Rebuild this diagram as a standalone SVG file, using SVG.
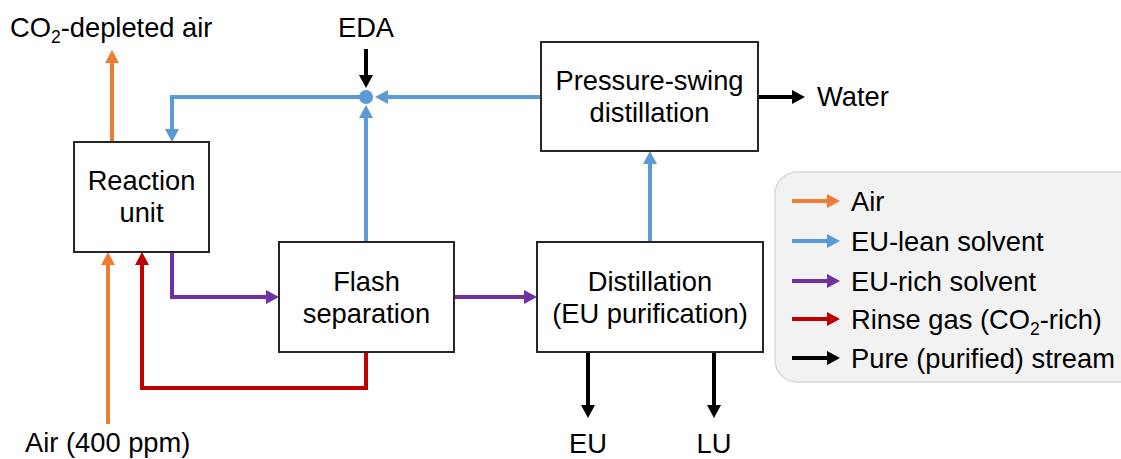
<svg xmlns="http://www.w3.org/2000/svg" width="1121" height="459" viewBox="0 0 1121 459">
<style>
.box{fill:#fff;stroke:#262626;stroke-width:2}
text{font-family:"Liberation Sans",Arial,sans-serif;font-size:27.3px;fill:#000}
.c{stroke-width:4;fill:none}
.or{stroke:#ED7D31}.bl{stroke:#5B9BD5}.pu{stroke:#7030A0}.rd{stroke:#C00000}.bk{stroke:#000}
</style>
<defs>
<marker id="aor" markerUnits="userSpaceOnUse" markerWidth="14" markerHeight="14" refX="7" refY="7" orient="auto"><path d="M0,0L13,7L0,14z" fill="#ED7D31"/></marker>
<marker id="abl" markerUnits="userSpaceOnUse" markerWidth="14" markerHeight="14" refX="7" refY="7" orient="auto"><path d="M0,0L13,7L0,14z" fill="#5B9BD5"/></marker>
<marker id="apu" markerUnits="userSpaceOnUse" markerWidth="14" markerHeight="14" refX="7" refY="7" orient="auto"><path d="M0,0L13,7L0,14z" fill="#7030A0"/></marker>
<marker id="ard" markerUnits="userSpaceOnUse" markerWidth="14" markerHeight="14" refX="7" refY="7" orient="auto"><path d="M0,0L13,7L0,14z" fill="#C00000"/></marker>
<marker id="abk" markerUnits="userSpaceOnUse" markerWidth="14" markerHeight="14" refX="7" refY="7" orient="auto"><path d="M0,0L13,7L0,14z" fill="#000"/></marker>
</defs>

<g id="connectors">
<line class="c or" x1="112" y1="142" x2="112" y2="56" marker-end="url(#aor)"/>
<line class="c or" x1="108" y1="424" x2="108" y2="258" marker-end="url(#aor)"/>
<polyline class="c bl" points="366,97 172,97 172,136" marker-end="url(#abl)"/>
<line class="c bl" x1="541" y1="97" x2="381" y2="97" marker-end="url(#abl)"/>
<line class="c bl" x1="366" y1="242" x2="366" y2="111" marker-end="url(#abl)"/>
<line class="c bk" x1="366" y1="49" x2="366" y2="82" marker-end="url(#abk)"/>
<circle cx="366" cy="97" r="7" fill="#5B9BD5"/>
<line class="c bl" x1="650" y1="242" x2="650" y2="157" marker-end="url(#abl)"/>
<line class="c bk" x1="758" y1="97" x2="799" y2="97" marker-end="url(#abk)"/>
<polyline class="c pu" points="172,252 172,297 273,297" marker-end="url(#apu)"/>
<line class="c pu" x1="454" y1="297" x2="531" y2="297" marker-end="url(#apu)"/>
<polyline class="c rd" points="366,352 366,388 142,388 142,258" marker-end="url(#ard)"/>
<line class="c bk" x1="588" y1="352" x2="588" y2="412" marker-end="url(#abk)"/>
<line class="c bk" x1="714" y1="352" x2="714" y2="412" marker-end="url(#abk)"/>
</g>

<g id="reaction-unit">
<rect class="box" x="74" y="142" width="135" height="110"/>
<text x="141.5" y="190" text-anchor="middle">Reaction</text>
<text x="141.5" y="222" text-anchor="middle">unit</text>
</g>
<g id="flash-separation">
<rect class="box" x="279" y="242" width="175" height="110"/>
<text x="366.5" y="291" text-anchor="middle">Flash</text>
<text x="366.5" y="323" text-anchor="middle">separation</text>
</g>
<g id="distillation">
<rect class="box" x="537" y="242" width="226" height="110"/>
<text x="650" y="291" text-anchor="middle">Distillation</text>
<text x="650" y="323" text-anchor="middle">(EU purification)</text>
</g>
<g id="pressure-swing">
<rect class="box" x="541" y="42" width="217" height="109"/>
<text x="649.5" y="90" text-anchor="middle">Pressure-swing</text>
<text x="649.5" y="122" text-anchor="middle">distillation</text>
</g>

<g id="labels">
<text x="10" y="37">CO<tspan font-size="17.5" dy="6">2</tspan><tspan dy="-6">-depleted air</tspan></text>
<text x="366" y="37" text-anchor="middle">EDA</text>
<text x="817" y="106">Water</text>
<text x="25" y="452">Air (400 ppm)</text>
<text x="588" y="453" text-anchor="middle">EU</text>
<text x="714" y="453" text-anchor="middle">LU</text>
</g>

<g id="legend">
<rect x="775" y="172" width="370" height="210" rx="22" fill="#F2F2F2" stroke="#D9D9D9" stroke-width="1.5"/>
<line class="c or" x1="792" y1="201" x2="834" y2="201" marker-end="url(#aor)"/>
<line class="c bl" x1="792" y1="241" x2="834" y2="241" marker-end="url(#abl)"/>
<line class="c pu" x1="792" y1="281" x2="834" y2="281" marker-end="url(#apu)"/>
<line class="c rd" x1="792" y1="319" x2="834" y2="319" marker-end="url(#ard)"/>
<line class="c bk" x1="792" y1="358" x2="834" y2="358" marker-end="url(#abk)"/>
<text x="851" y="211">Air</text>
<text x="851" y="251">EU-lean solvent</text>
<text x="851" y="291">EU-rich solvent</text>
<text x="851" y="329">Rinse gas (CO<tspan font-size="17.5" dy="6">2</tspan><tspan dy="-6">-rich)</tspan></text>
<text x="851" y="368">Pure (purified) stream</text>
</g>
</svg>
